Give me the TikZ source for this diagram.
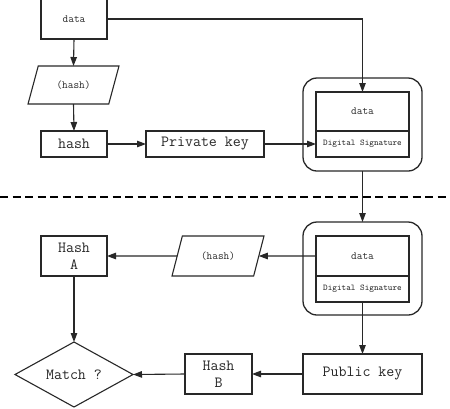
\documentclass[tikz,border=0pt]{standalone}
\usetikzlibrary{arrows.meta,shapes.geometric}
\definecolor{ink}{RGB}{40,40,40}
\begin{document}
\begin{tikzpicture}[x=1pt,y=-1pt,
  every node/.style={inner sep=0pt,outer sep=0pt},
  box/.style={draw=ink,line width=1.1pt,rectangle,text=ink},
  para/.style={draw=ink,line width=1.1pt,trapezium,trapezium left angle=60,trapezium right angle=120,trapezium stretches=true,text=ink},
  outerbox/.style={draw=ink,line width=1.3pt,rounded corners=14pt,minimum width=119pt,minimum height=93pt},
  big/.style={font=\fontsize{15.5}{17}\selectfont\ttfamily},
  mid/.style={font=\fontsize{11}{13}\selectfont\ttfamily},
  small/.style={font=\fontsize{8.8}{10}\selectfont\ttfamily},
  conn/.style={draw=ink,line width=1.1pt,-{Triangle[length=9pt,width=6.5pt]}},
  sep/.style={draw=black,line width=2.6pt,dash pattern=on 8pt off 4.5pt}
]
\useasboundingbox (0,0) rectangle (450,408);
\fill[white] (0,0) rectangle (450,408);
% top half
\node[box,mid,minimum width=66pt,minimum height=40pt] (dataA) at (74,19) {data};
\node[para,mid,minimum width=91pt,minimum height=38pt] (hash1) at (73.5,85) {(hash)};
\node[box,big,minimum width=66pt,minimum height=26pt] (hashbox) at (74,144) {hash};
\node[box,big,minimum width=118pt,minimum height=26pt] (privkey) at (205,144) {Private key};
\node[outerbox] (sig1) at (362.5,124.5) {};
\node[box,mid,minimum width=93pt,minimum height=39pt] (sig1data) at (362.5,111.5) {data};
\node[box,small,minimum width=93pt,minimum height=26pt] (sig1sig) at (362.5,144) {Digital Signature};
% separator
\coordinate (sepL) at (0,197);
\coordinate (sepR) at (450,197);
\draw[sep] (sepL) -- (sepR);
% bottom half
\node[outerbox] (sig2) at (362.5,268.5) {};
\node[box,mid,minimum width=93pt,minimum height=40pt] (sig2data) at (362.5,256) {data};
\node[box,small,minimum width=93pt,minimum height=26pt] (sig2sig) at (362.5,289) {Digital Signature};
\node[para,mid,minimum width=92pt,minimum height=40pt] (hash2) at (218,256) {(hash)};
\node[box,big,minimum width=66pt,minimum height=40pt,align=center] (hashA) at (74,256) {Hash\\A};
\node[draw=ink,line width=1.1pt,diamond,aspect=1.8,big,text=ink,minimum width=118pt,minimum height=65pt] (match) at (74,374.5) {Match ?};
\node[box,big,minimum width=119pt,minimum height=40pt] (pubkey) at (362.5,374) {Public key};
\node[box,big,minimum width=67pt,minimum height=40pt,align=center] (hashB) at (218.5,374) {Hash\\B};
% connectors
\draw[conn] (dataA.south) -- (hash1.north);
\draw[conn] (hash1.south) -- (hashbox.north);
\draw[conn] (hashbox.east) -- (privkey.west);
\draw[conn] (privkey.east) -- (sig1sig.west);
\draw[conn] (dataA.east) -| (sig1data.north);
\draw[conn] (sig1.south) -- (sig2.north);
\draw[conn] (sig2data.west) -- (hash2.east);
\draw[conn] (hash2.west) -- (hashA.east);
\draw[conn] (hashA.south) -- (match.north);
\draw[conn] (sig2sig.south) -- (pubkey.north);
\draw[conn] (pubkey.west) -- (hashB.east);
\draw[conn] (hashB.west) -- (match.east);
\end{tikzpicture}
\end{document}
